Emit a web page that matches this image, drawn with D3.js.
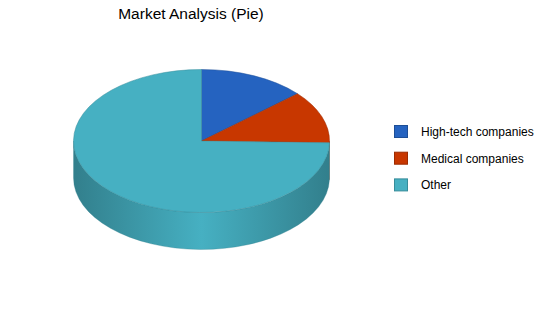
<!DOCTYPE html>
<html>
<head>
<meta charset="utf-8">
<script src="https://cdn.jsdelivr.net/npm/d3@7"></script>
<style>
  body { margin: 0; background: #fff; }
  svg { display: block; font-family: "Liberation Sans", Arial, sans-serif; }
</style>
</head>
<body>
<div id="chart"></div>
<script>
const w = 550;
const h = 318;

// data
var categories = ["High-tech companies", "Medical companies", "Other"];
var values = [13.5, 11.9, 74.6];
var topColors = ["#2563c0", "#c83700", "#46b0c2"];
var sideDark = ["#1a4786", "#8c2700", "#327f8c"];
var strokeColors = ["#1d4e96", "#9c2b00", "#368c9a"];

// pie geometry (tilted ellipse)
var cx = 201.5, cy = 141, rx = 128, ry = 71.5, depth = 37;

var svg = d3.select("#chart")
    .append("svg")
    .attr("width", w)
    .attr("height", h);

var defs = svg.append("defs");

var pie = d3.pie().sort(null).value(function(d) { return d; });
var arcs = pie(values);

// angle 0 = 12 o'clock, clockwise
function px(a) { return cx + rx * Math.sin(a); }
function py(a, dy) { return cy - ry * Math.cos(a) + (dy || 0); }

arcs.forEach(function(d, i) {
    var g = defs.append("linearGradient")
        .attr("id", "side" + i)
        .attr("gradientUnits", "userSpaceOnUse")
        .attr("x1", cx - rx).attr("x2", cx + rx)
        .attr("y1", 0).attr("y2", 0);
    g.append("stop").attr("offset", 0).attr("stop-color", sideDark[i]);
    g.append("stop").attr("offset", 0.5).attr("stop-color", topColors[i]);
    g.append("stop").attr("offset", 1).attr("stop-color", sideDark[i]);
});

// sides - only the front half (pi/2 .. 3pi/2) is visible
var sides = svg.append("g").attr("class", "sides");
arcs.forEach(function(d, i) {
    var a0 = Math.max(d.startAngle, Math.PI / 2);
    var a1 = Math.min(d.endAngle, Math.PI * 3 / 2);
    if (a1 <= a0) return;
    var large = (a1 - a0) > Math.PI ? 1 : 0;
    var p = "M" + px(a0) + "," + py(a0) +
        "A" + rx + "," + ry + " 0 " + large + " 1 " + px(a1) + "," + py(a1) +
        "L" + px(a1) + "," + py(a1, depth) +
        "A" + rx + "," + ry + " 0 " + large + " 0 " + px(a0) + "," + py(a0, depth) + "Z";
    sides.append("path")
        .attr("d", p)
        .attr("fill", "url(#side" + i + ")")
        .attr("stroke", sideDark[i])
        .attr("stroke-width", 0.5)
        .attr("stroke-opacity", 0.6);
});

// top slices
var tops = svg.append("g").attr("class", "tops");
tops.selectAll("path")
    .data(arcs)
    .enter()
    .append("path")
    .attr("d", function(d) {
        var large = (d.endAngle - d.startAngle) > Math.PI ? 1 : 0;
        return "M" + cx + "," + cy +
            "L" + px(d.startAngle) + "," + py(d.startAngle) +
            "A" + rx + "," + ry + " 0 " + large + " 1 " + px(d.endAngle) + "," + py(d.endAngle) + "Z";
    })
    .attr("fill", function(d, i) { return topColors[i]; })
    .attr("stroke", function(d, i) { return strokeColors[i]; })
    .attr("stroke-width", 0.5);

// title
svg.append("text")
    .attr("x", 191)
    .attr("y", 19)
    .attr("text-anchor", "middle")
    .attr("font-size", 15.5)
    .attr("fill", "#000")
    .text("Market Analysis (Pie)");

// legend
var legend = svg.append("g")
    .attr("transform", "translate(394,125)");

var item = legend.selectAll("g")
    .data(categories)
    .enter()
    .append("g")
    .attr("transform", function(d, i) { return "translate(0," + (i * 26.7) + ")"; });

item.append("rect")
    .attr("x", 0.5).attr("y", 0.5)
    .attr("width", 13).attr("height", 12)
    .attr("fill", function(d, i) { return topColors[i]; })
    .attr("stroke", function(d, i) { return strokeColors[i]; });

item.append("text")
    .attr("x", 27)
    .attr("y", 11)
    .attr("font-size", 12)
    .attr("fill", "#000")
    .text(function(d) { return d; });
</script>
</body>
</html>
